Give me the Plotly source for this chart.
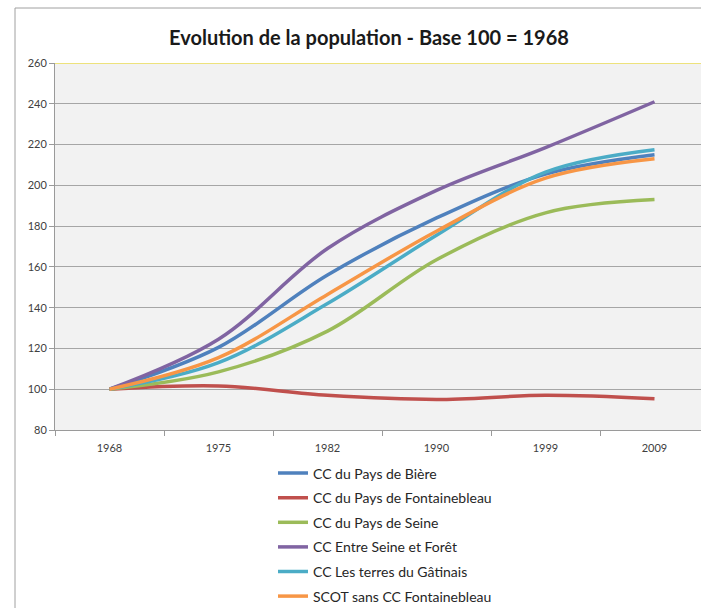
import plotly.graph_objects as go

years = ["1968", "1975", "1982", "1990", "1999", "2009"]
biere = [100, 120.5, 156, 184, 205.5, 215]
fontainebleau = [100, 101.6, 97, 95, 97, 95.3]
seine = [100, 108.5, 128.5, 163.5, 186.5, 193]
entre_seine_foret = [100, 124.5, 169, 197.5, 218.5, 241]
gatinais = [100, 113, 142, 175.5, 206.5, 217.5]
scot = [100, 115.5, 146.5, 177.5, 203.5, 213]

series = [
    ("CC du Pays de Bière", biere, "#4F81BD"),
    ("CC du Pays de Fontainebleau", fontainebleau, "#C0504D"),
    ("CC du Pays de Seine", seine, "#9BBB59"),
    ("CC Entre Seine et Forêt", entre_seine_foret, "#8064A2"),
    ("CC Les terres du Gâtinais", gatinais, "#4BACC6"),
    ("SCOT sans CC Fontainebleau", scot, "#F79646"),
]

FONT = "Lato, Carlito, Calibri, sans-serif"
W, H = 701, 608
ML, MR, MT, MB = 55, 0, 63, 178
pw = W - ML - MR
ph = H - MT - MB

fig = go.Figure()
xs = list(range(len(years)))
for i, (name, vals, col) in enumerate(series):
    fig.add_trace(go.Scatter(
        x=xs, y=vals, name=name, mode="lines",
        line=dict(color=col, width=3.5, shape="spline", smoothing=1),
        legendgroup=f"g{i}",
    ))

def px_x(p):
    return (p - ML) / pw

def px_y(p):
    return (H - MB - p) / ph

fig.update_layout(
    width=W, height=H,
    margin=dict(l=ML, r=MR, t=MT, b=MB, autoexpand=False),
    paper_bgcolor="white",
    plot_bgcolor="#F2F2F2",
    font=dict(family=FONT, color="#404040"),
    title=dict(text="Evolution de la population - Base 100 = 1968",
               x=px_x(369), xref="paper", xanchor="center",
               y=1 - 38 / H, yanchor="middle",
               font=dict(family=FONT, size=20, color="#1a1a1a", weight="bold")),
    xaxis=dict(
        range=[-0.5, -0.5 + pw / 109.0],
        tickmode="array", tickvals=xs, ticktext=years,
        ticks="", showgrid=False, zeroline=False,
        showline=True, linecolor="#9a9a9a", linewidth=1,
        tickfont=dict(size=11, color="#404040"),
        ticklabelstandoff=8,
        minor=dict(tickmode="linear", tick0=-0.5, dtick=1, ticks="outside",
                   ticklen=5, tickcolor="#9a9a9a", showgrid=False),
    ),
    yaxis=dict(
        range=[80, 260], tickmode="linear", tick0=80, dtick=20,
        showgrid=True, gridcolor="#A6A6A6", gridwidth=1,
        zeroline=False, showline=True, linecolor="#9a9a9a", linewidth=1,
        ticks="outside", ticklen=5, tickcolor="#9a9a9a",
        tickfont=dict(size=11, color="#404040"),
    ),
    showlegend=True,
    legend=dict(
        x=px_x(273), xanchor="left", y=px_y(457.5), yanchor="top",
        orientation="v", traceorder="grouped", tracegroupgap=3.4,
        font=dict(family=FONT, size=14, color="#262626"),
        bgcolor="rgba(0,0,0,0)", itemwidth=30,
    ),
    shapes=[
        dict(type="line", xref="paper", yref="y", x0=0, x1=1, y0=260, y1=260,
             line=dict(color="#EDE27C", width=2)),
        dict(type="line", xref="paper", yref="paper", x0=px_x(15), x1=px_x(15),
             y0=px_y(8), y1=px_y(H + 10), line=dict(color="#A0A0A0", width=1)),
        dict(type="line", xref="paper", yref="paper", x0=px_x(15), x1=px_x(W + 10),
             y0=px_y(8), y1=px_y(8), line=dict(color="#A0A0A0", width=1)),
    ],
)

fig.write_html(
    "out.html",
    config={"displayModeBar": False},
    post_script="document.body.style.margin='0';document.body.style.overflow='hidden';",
)
